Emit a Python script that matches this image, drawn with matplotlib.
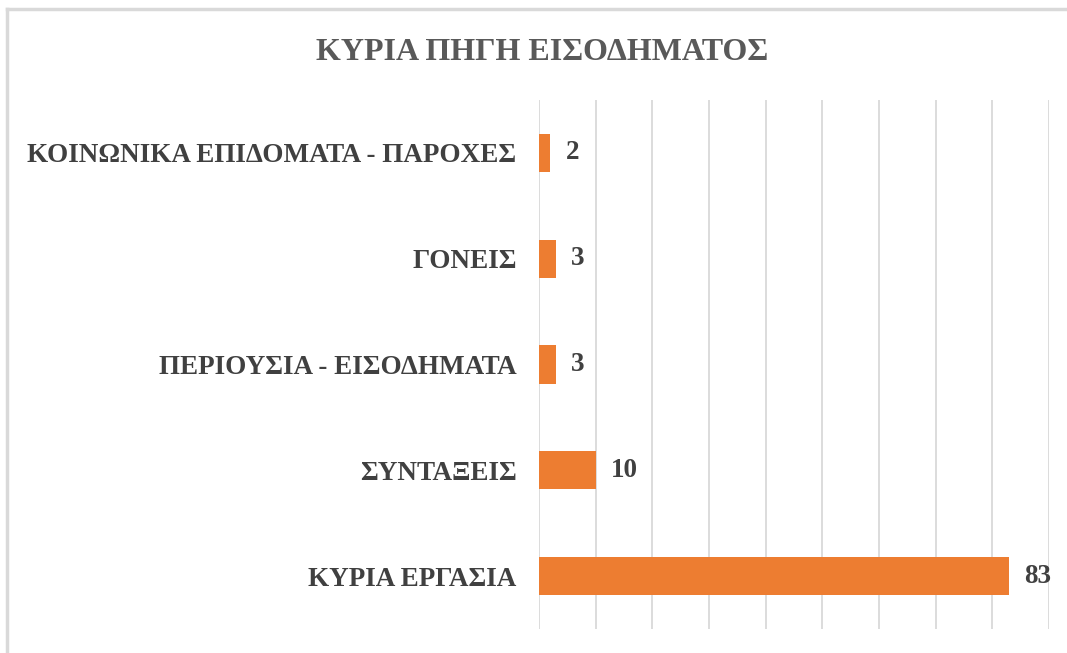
import matplotlib
matplotlib.use("Agg")
import matplotlib.pyplot as plt
from matplotlib.lines import Line2D

# Income sources, bottom to top
categories = ["ΚΥΡΙΑ ΕΡΓΑΣΙΑ", "ΣΥΝΤΑΞΕΙΣ", "ΠΕΡΙΟΥΣΙΑ - ΕΙΣΟΔΗΜΑΤΑ",
              "ΓΟΝΕΙΣ", "ΚΟΙΝΩΝΙΚΑ ΕΠΙΔΟΜΑΤΑ - ΠΑΡΟΧΕΣ"]
values = [83, 10, 3, 3, 2]

plt.rcParams['font.family'] = ['Liberation Serif', 'DejaVu Serif']
plt.rcParams['font.weight'] = 'bold'

fig = plt.figure(figsize=(10.67, 6.53), dpi=100)
ax = fig.add_axes([0.505, 0.0368, 0.478, 0.810])

bars = ax.barh(range(len(categories)), values, height=0.36, color="#ED7D31")
ax.set_xlim(0, 90)
ax.set_ylim(-0.5, len(categories) - 0.5)
ax.set_xticks(range(0, 91, 10))
ax.xaxis.grid(True, color="#D9D9D9", linewidth=1.3)
ax.set_axisbelow(True)
ax.tick_params(axis='x', length=0, labelbottom=False)
ax.tick_params(axis='y', length=0, pad=16, labelsize=19.5, labelcolor="#404040")
ax.set_yticks(range(len(categories)))
ax.set_yticklabels(categories, fontweight='bold')
for s in ax.spines.values():
    s.set_visible(False)

for bar, v in zip(bars, values):
    ax.annotate(str(v), (bar.get_width(), bar.get_y() + bar.get_height() / 2),
                xytext=(11, 0), textcoords="offset points", va="center",
                fontsize=19.5, fontweight="bold", color="#404040")

fig.text(0.508, 0.92, "ΚΥΡΙΑ ΠΗΓΗ ΕΙΣΟΔΗΜΑΤΟΣ", ha="center", va="center",
         fontsize=23, fontweight="bold", color="#595959")

# chart frame
fig.add_artist(Line2D([0.0068, 0.0068], [0.0, 0.986], color="#D9D9D9", lw=2.5,
                      transform=fig.transFigure))
fig.add_artist(Line2D([0.0068, 1.0], [0.986, 0.986], color="#D9D9D9", lw=2.5,
                      transform=fig.transFigure))

fig.savefig("out.png", dpi=100)
